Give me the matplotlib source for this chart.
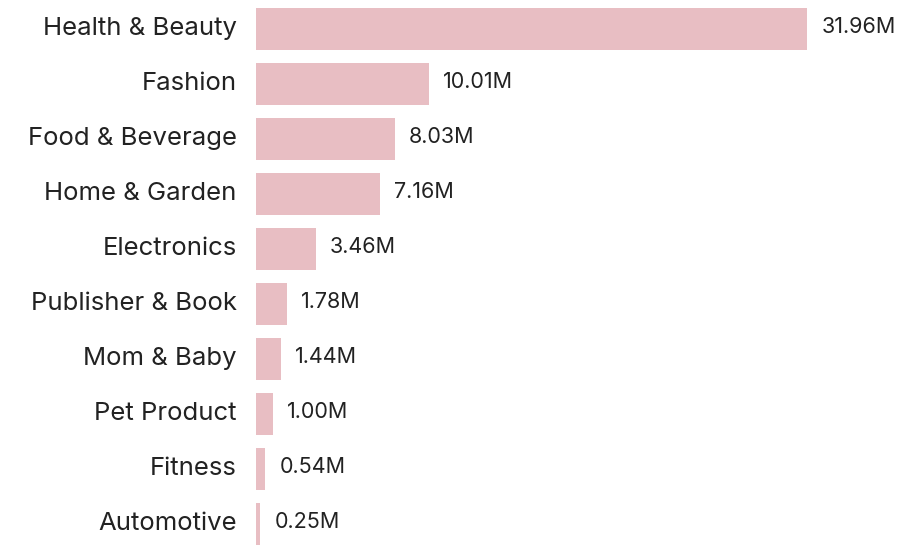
import matplotlib
matplotlib.use("Agg")
import matplotlib.pyplot as plt
from matplotlib.transforms import ScaledTranslation

categories = ["Health & Beauty", "Fashion", "Food & Beverage", "Home & Garden", "Electronics",
              "Publisher & Book", "Mom & Baby", "Pet Product", "Fitness", "Automotive"]
values = [31.96, 10.01, 8.03, 7.16, 3.46, 1.78, 1.44, 1.00, 0.54, 0.25]
value_labels = ["31.96M", "10.01M", "8.03M", "7.16M", "3.46M", "1.78M", "1.44M", "1.00M", "0.54M", "0.25M"]

plt.rcParams['font.family'] = ['Inter', 'DejaVu Sans']

fig = plt.figure(figsize=(9.05, 5.46), dpi=100)
ax = fig.add_axes([256/905, 0, 1 - 256/905, 1])
y = list(range(len(categories)))
ax.barh(y, values, height=0.77, color="#e8bec3")
ax.set_xlim(0, (905 - 256) / 17.25)
ax.set_ylim(9 + 22/55, -29/55)
ax.set_yticks(y)
ax.set_yticklabels(categories, fontsize=18.5, color="#222222")
ax.tick_params(axis='y', length=0, pad=14)
shift = ScaledTranslation(0, 3/100, fig.dpi_scale_trans)
for lbl in ax.get_yticklabels():
    lbl.set_transform(lbl.get_transform() + shift)
ax.set_xticks([])
for s in ax.spines.values():
    s.set_visible(False)
for yi, v, lab in zip(y, values, value_labels):
    ax.annotate(lab, (v, yi), xytext=(14, 2), textcoords="offset pixels",
                va="center", ha="left", fontsize=15.5, color="#222222")
fig.savefig("out.png", dpi=100)
